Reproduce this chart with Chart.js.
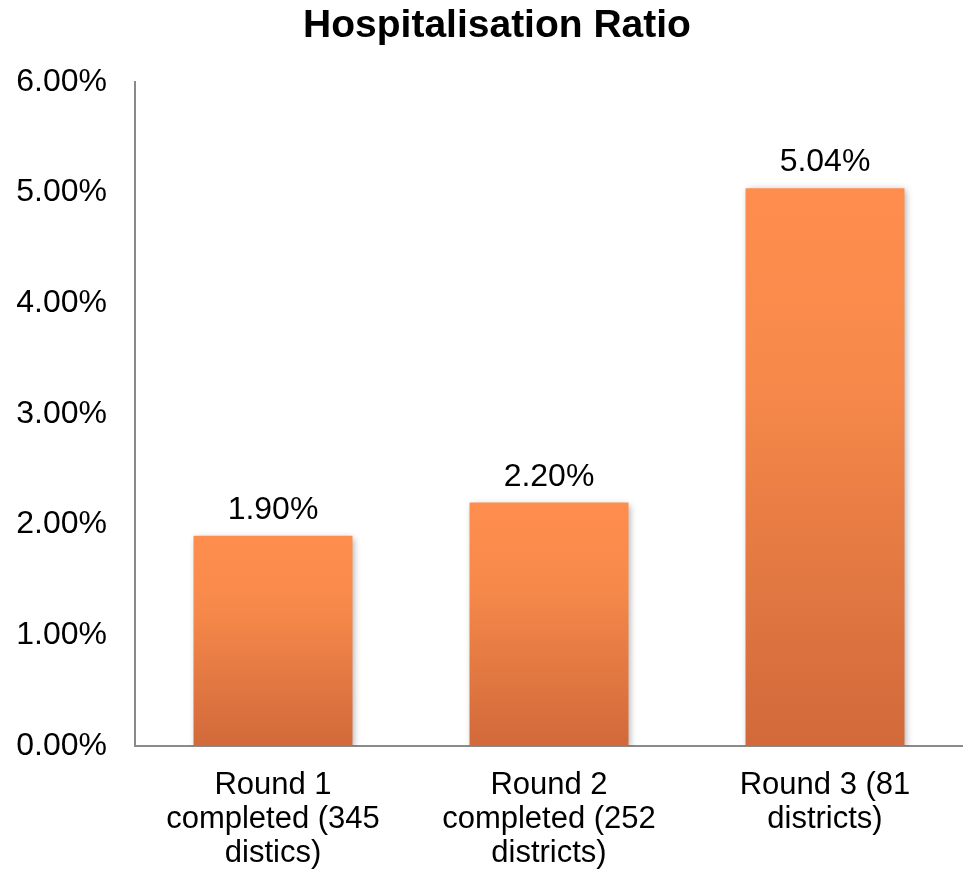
<!DOCTYPE html>
<html>
<head>
<meta charset="utf-8">
<script src="https://cdn.jsdelivr.net/npm/chart.js@4/dist/chart.umd.min.js"></script>
<style>
  html, body { margin: 0; padding: 0; background: #ffffff; }
  #wrap { width: 963px; height: 874px; position: relative; }
</style>
</head>
<body>
<div id="wrap"><canvas id="c" width="963" height="874"></canvas></div>
<script>
// Chart data
const chartTitle = 'Hospitalisation Ratio';
const categories = [
  ['Round 1', 'completed (345', 'distics)'],
  ['Round 2', 'completed (252', 'districts)'],
  ['Round 3 (81', 'districts)']
];
const ratioValues = [1.90, 2.20, 5.04];   // percent
const yTicks = { min: 0, max: 6, step: 1 };

const FONT = '"Liberation Sans", Arial, Helvetica, sans-serif';

// Vertical gradient per bar, lightest at the bar's top
function barGradient(ctx) {
  const chart = ctx.chart;
  const area = chart.chartArea;
  if (!area) return '#F58A4B';
  const ys = chart.scales.y;
  const top = ys.getPixelForValue(ratioValues[ctx.dataIndex]);
  const base = ys.getPixelForValue(0);
  const g = chart.ctx.createLinearGradient(0, top, 0, base);
  g.addColorStop(0, '#FF8E4E');
  g.addColorStop(0.35, '#F6894A');
  g.addColorStop(1, '#D1693A');
  return g;
}

// Soft drop shadow under the bars
const barShadow = {
  id: 'barShadow',
  beforeDatasetsDraw(chart) {
    const c = chart.ctx;
    c.save();
    c.shadowColor = 'rgba(0,0,0,0.35)';
    c.shadowBlur = 7;
    c.shadowOffsetX = 2;
    c.shadowOffsetY = 2;
  },
  afterDatasetsDraw(chart) {
    chart.ctx.restore();
  }
};

// Value labels above each bar
const valueLabels = {
  id: 'valueLabels',
  afterDatasetsDraw(chart) {
    const c = chart.ctx;
    const meta = chart.getDatasetMeta(0);
    c.save();
    c.font = '32px ' + FONT;
    c.fillStyle = '#000000';
    c.textAlign = 'center';
    c.textBaseline = 'alphabetic';
    meta.data.forEach((bar, i) => {
      c.fillText(ratioValues[i].toFixed(2) + '%', bar.x, bar.y - 17);
    });
    c.restore();
  }
};

// Bold heading above the plot
const heading = {
  id: 'heading',
  afterDraw(chart) {
    const c = chart.ctx;
    c.save();
    c.font = 'bold 39px ' + FONT;
    c.fillStyle = '#000000';
    c.textAlign = 'center';
    c.textBaseline = 'alphabetic';
    c.fillText(chartTitle, 497, 37);
    c.restore();
  }
};

new Chart(document.getElementById('c'), {
  type: 'bar',
  data: {
    labels: categories,
    datasets: [{
      data: ratioValues,
      backgroundColor: barGradient,
      borderWidth: 0,
      categoryPercentage: 1,
      barPercentage: 0.576
    }]
  },
  options: {
    responsive: false,
    animation: false,
    devicePixelRatio: 1,
    layout: { padding: { top: 82, right: 0, bottom: 0, left: 0 } },
    plugins: {
      legend: { display: false },
      title: { display: false },
      tooltip: { enabled: false }
    },
    scales: {
      x: {
        grid: { display: false, drawTicks: false },
        border: { display: true, color: '#8A8A8A', width: 2 },
        ticks: {
          color: '#000000',
          font: { family: FONT, size: 31, lineHeight: 1.1 },
          padding: 22,
          maxRotation: 0,
          autoSkip: false
        },
        afterFit(axis) { axis.height = 128; }
      },
      y: {
        min: yTicks.min,
        max: yTicks.max,
        grid: { display: false, drawTicks: false },
        border: { display: true, color: '#8A8A8A', width: 2 },
        ticks: {
          stepSize: yTicks.step,
          color: '#000000',
          font: { family: FONT, size: 32 },
          padding: 28,
          callback: (v) => Number(v).toFixed(2) + '%'
        },
        afterFit(axis) { axis.width = 135; }
      }
    }
  },
  plugins: [barShadow, valueLabels, heading]
});
</script>
</body>
</html>
